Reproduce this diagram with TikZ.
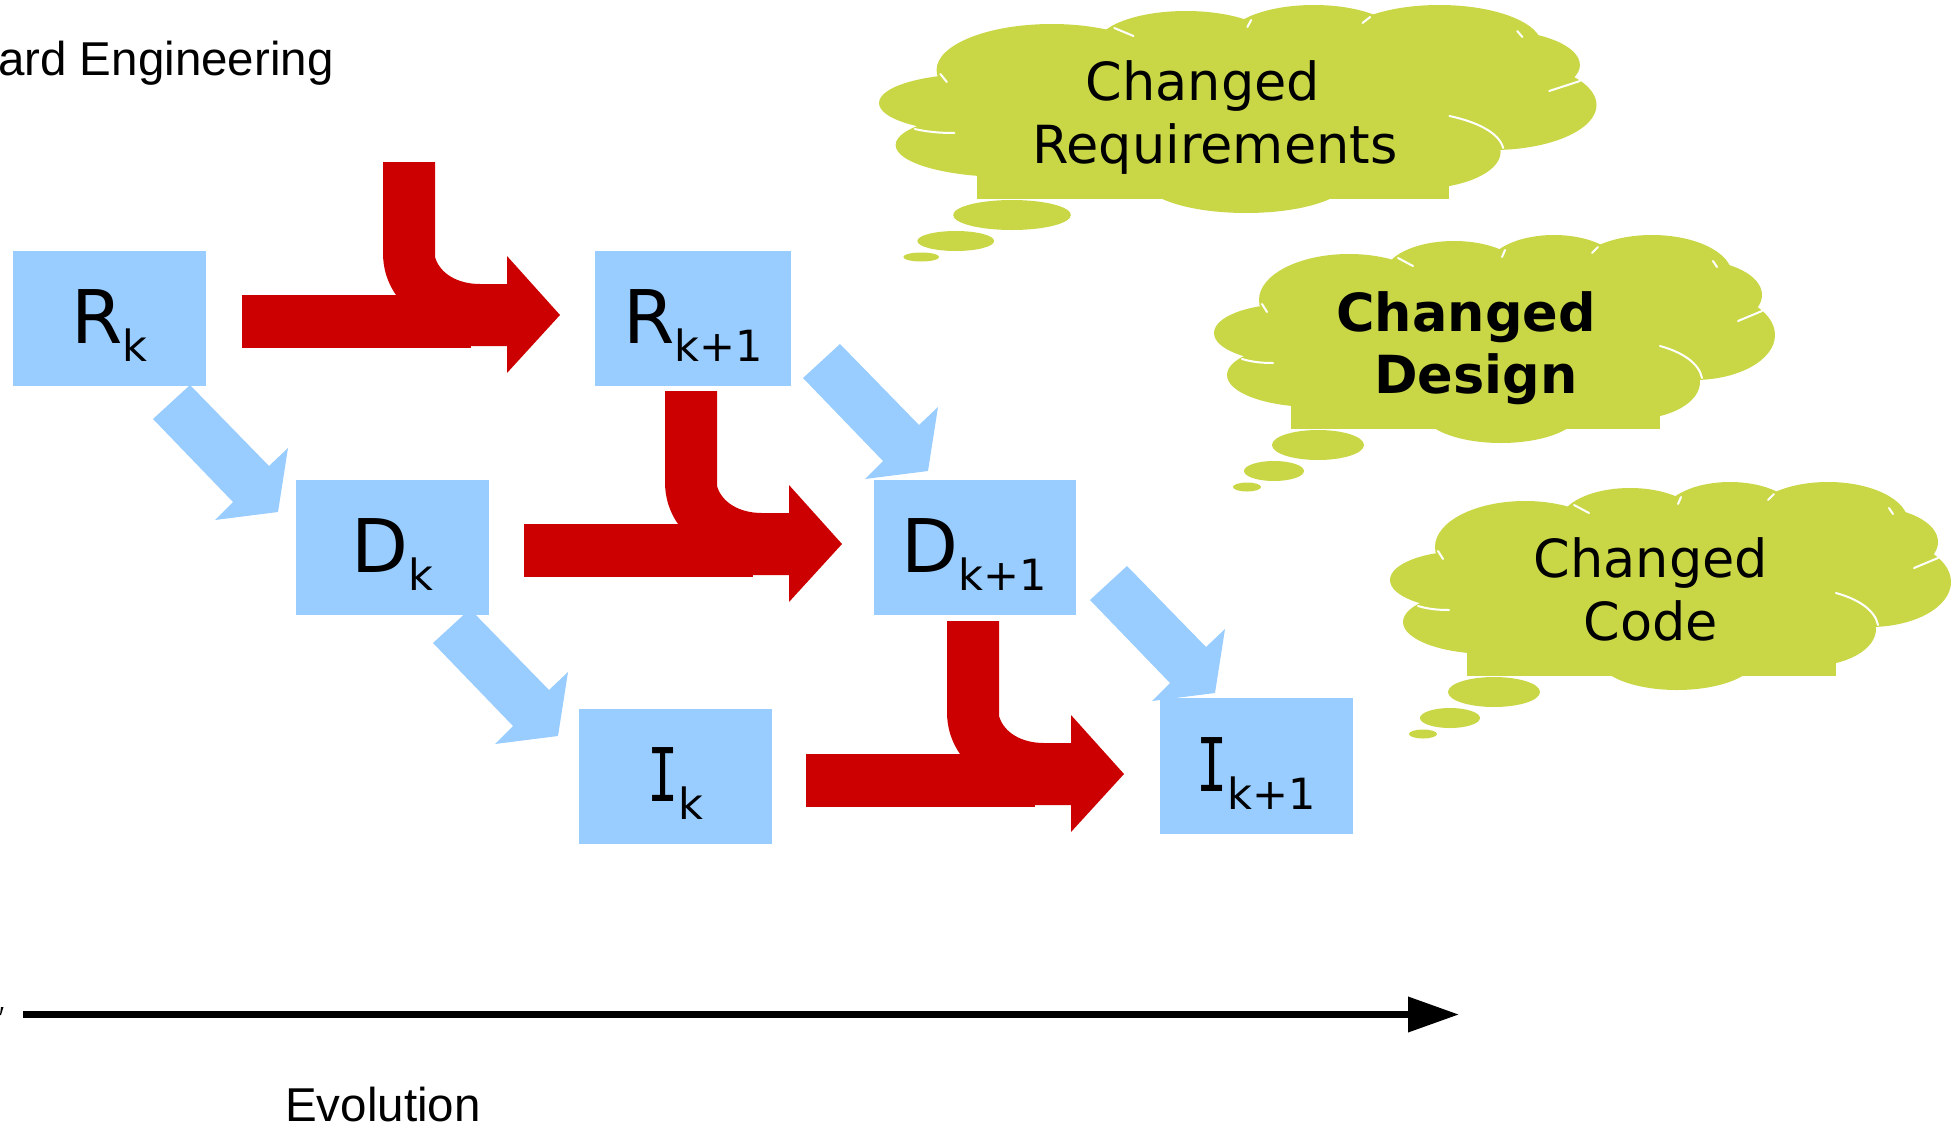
\documentclass[tikz,border=0pt]{standalone}
\usepackage{fontspec}
\setmainfont{DejaVu Sans}
\newfontfamily\arialf{Liberation Sans}
\newfontfamily\ifont[FakeStretch=0.7]{DejaVu Sans Mono}
\usetikzlibrary{arrows.meta}
\definecolor{boxblue}{RGB}{153,204,255}
\definecolor{redc}{RGB}{204,0,0}
\definecolor{cloudc}{RGB}{201,215,71}
\newcommand\lbl[2]{#1\raisebox{-18pt}{\fontsize{43}{48}\selectfont #2}}
\tikzset{
  stage/.style={fill=boxblue, inner sep=0pt, text depth=0pt, text height=50pt,
    minimum height=135pt, font=\fontsize{74}{80}\selectfont},
  cloudtxt/.style={inner sep=0pt, anchor=base, font=\fontsize{52.5}{60}\selectfont},
  cloudbold/.style={cloudtxt, font=\fontsize{52.5}{60}\selectfont\bfseries},
  plaintxt/.style={inner sep=0pt, anchor=base west, font=\arialf\fontsize{47.5}{50}\selectfont},
  hilite/.style={draw=white, line width=2pt, line cap=round},
  redbend/.pic={
    \fill[redc] (242,295) rectangle (471,348);
    \fill[redc] (383,162) -- (435,162) -- (435,257)
      .. controls (440,274) and (458,284) .. (480,284) -- (507,284) -- (507,256)
      -- (560,315) -- (507,373) -- (507,346) -- (400,346) -- (396,295)
      .. controls (387,282) and (383,268) .. (383,253) -- cycle;
  },
  bluediag/.pic={
    \fill[boxblue] (190,385) -- (153,419) -- (233,502) -- (215,520) -- (278,512)
      -- (288,448) -- (269,466) -- cycle;
  },
  cloudpic/.pic={
    \fill[cloudc] (77,60) rectangle (446,194);
    \fill[cloudc] (100,140) ellipse [x radius=87, y radius=32];
    \fill[cloudc] (75,98) ellipse [x radius=75, y radius=29];
    \fill[cloudc] (135,65) ellipse [x radius=90, y radius=46];
    \fill[cloudc] (240,40) ellipse [x radius=70, y radius=34];
    \fill[cloudc] (340,35) ellipse [x radius=68, y radius=35];
    \fill[cloudc] (438,40) ellipse [x radius=80, y radius=40];
    \fill[cloudc] (480,60) ellipse [x radius=68, y radius=35];
    \fill[cloudc] (480,100) ellipse [x radius=81, y radius=45];
    \fill[cloudc] (420,147) ellipse [x radius=66, y radius=37];
    \fill[cloudc] (287,175) ellipse [x radius=80, y radius=33];
    \fill[cloudc] (104,210) ellipse [x radius=46, y radius=15];
    \fill[cloudc] (60,236) ellipse [x radius=30, y radius=10];
    \fill[cloudc] (33,252) ellipse [x radius=14, y radius=4.5];
    \draw[hilite] (48,69) -- (53,77);
    \draw[hilite] (28,124) .. controls (38,127) and (48,128) .. (59,128);
    \draw[hilite] (184,23) -- (199,31);
    \draw[hilite] (291,15) -- (288,22);
    \draw[hilite] (378,18) -- (384,12);
    \draw[hilite] (499,26) -- (503,32);
    \draw[hilite] (446,111) .. controls (468,117) and (485,128) .. (488,143);
    \draw[hilite] (524,86) -- (548,76);
  }
}
\begin{document}
\begin{tikzpicture}[x=1pt,y=-1pt]
\useasboundingbox (0,0) rectangle (1952,1130);

% clouds
\pic[xscale=1.279] at (879,5) {cloudpic};
\pic at (1214,235) {cloudpic};
\pic at (1390,482) {cloudpic};

\node[cloudtxt] (cr1) at (1203,100) {Changed};
\node[cloudtxt] (cr2) at (1215,163) {Requirements};
\node[cloudbold] (cd1) at (1466,331) {Changed};
\node[cloudbold] (cd2) at (1476,393) {Design};
\node[cloudtxt] (cc1) at (1651,577) {Changed};
\node[cloudtxt] (cc2) at (1651,640) {Code};

% blue diagonal arrows
\pic at (0,0) {bluediag};
\pic at (650,-41) {bluediag};
\pic at (280,224) {bluediag};
\pic at (937,181) {bluediag};

% red bent arrows
\pic at (0,0) {redbend};
\pic at (282,229) {redbend};
\pic at (564,459) {redbend};

% stage boxes
\node[stage, minimum width=193pt] (rk) at (109.5,318) {\lbl{R}{k}};
\node[stage, minimum width=196pt] (rk1) at (693,318) {\lbl{R}{k+1}};
\node[stage, minimum width=193pt] (dk) at (392.5,547.5) {\lbl{D}{k}};
\node[stage, minimum width=202pt] (dk1) at (974.5,547.5) {\lbl{D}{k+1}};
\node[stage, minimum width=193pt] (ik) at (675.5,776.5) {\lbl{{\ifont I}}{k}};
\node[stage, minimum width=193pt, minimum height=136pt] (ik1) at (1256.5,766) {\lbl{{\ifont I}}{k+1}};

% texts
\node[plaintxt] (fwd) at (-2,75) {ard Engineering};
\node[plaintxt] (evo) at (285,1121) {Evolution};

% evolution axis
\coordinate (t0) at (23,1014.5);
\coordinate (t1) at (1459,1014.5);
\draw[line width=7pt, -{Triangle[length=51pt, width=34pt]}] (t0) -- (t1);
\fill (1,1007) -- (3.5,1007) -- (1,1015) -- (0,1015) -- cycle;
\end{tikzpicture}
\end{document}
